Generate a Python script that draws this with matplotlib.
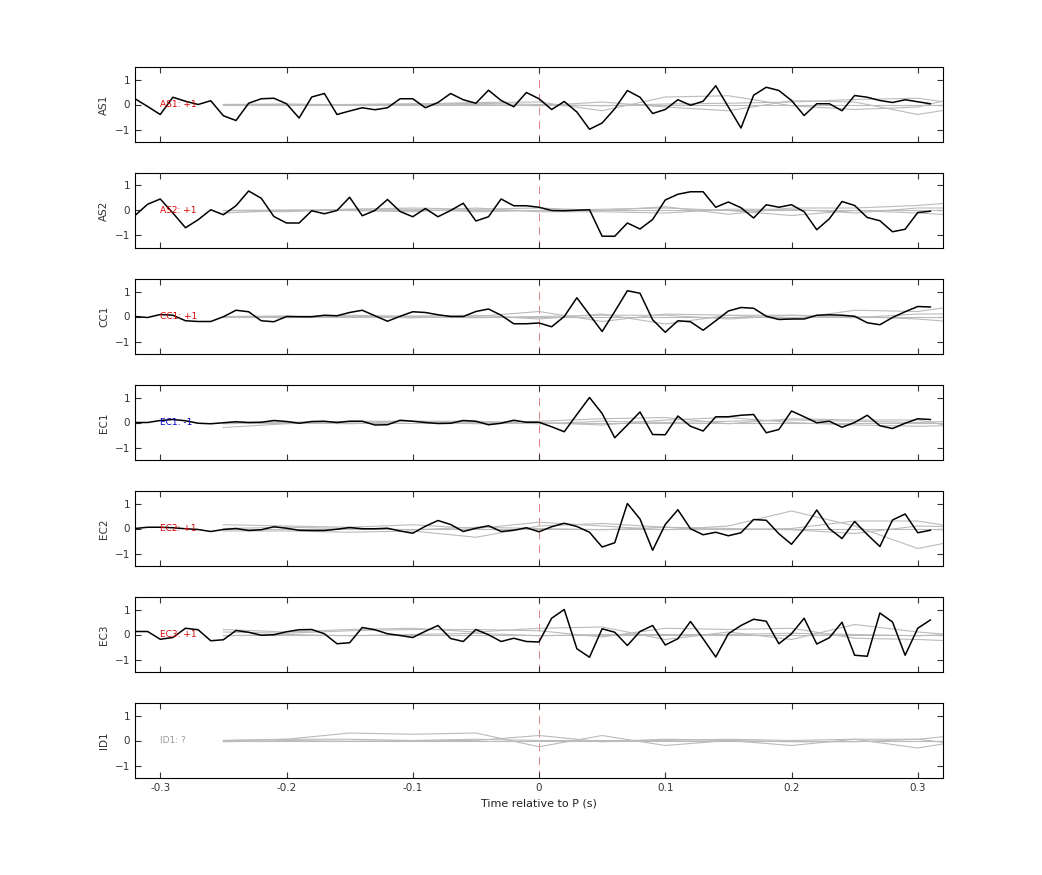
import numpy as np
import matplotlib
matplotlib.use('Agg')
from matplotlib import pyplot as plt

#   station names and polarity labels
stations = ['AS1', 'AS2', 'CC1', 'EC1', 'EC2', 'EC3', 'ID1']
labels = ['AS1: +1', 'AS2: +1', 'CC1: +1', 'EC1: -1', 'EC2: +1', 'EC3: +1', 'ID1: ?']
label_colors = ['#dd0000', '#dd0000', '#dd0000', '#0000cc', '#dd0000', '#dd0000', '#999999']

#   black traces, sampled every 0.01 s from -0.32 to 0.31
t_trace = np.arange(64) * 0.01 - 0.32
traces = {
    'AS1': [0.23, -0.08, -0.40, 0.29, 0.13, 0.0, 0.15, -0.45, -0.64, 0.05, 0.23, 0.25, 0.03, -0.54, 0.30, 0.44,
            -0.40, -0.26, -0.13, -0.21, -0.13, 0.23, 0.23, -0.13, 0.08, 0.44, 0.19, 0.05, 0.57, 0.16, -0.09, 0.48,
            0.23, -0.2, 0.12, -0.3, -0.99, -0.74, -0.17, 0.56, 0.29, -0.36, -0.2, 0.19, -0.03, 0.13, 0.75, -0.1,
            -0.94, 0.37, 0.69, 0.56, 0.16, -0.44, 0.03, 0.03, -0.25, 0.36, 0.29, 0.16, 0.08, 0.19, 0.11, 0.03],
    'AS2': [-0.2, 0.25, 0.46, -0.1, -0.69, -0.37, 0.03, -0.17, 0.19, 0.78, 0.49, -0.24, -0.5, -0.5, -0.01, -0.13,
            0.0, 0.53, -0.21, 0.0, 0.44, -0.04, -0.25, 0.08, -0.25, 0.0, 0.29, -0.42, -0.25, 0.46, 0.19, 0.19,
            0.13, 0.0, -0.01, 0.01, 0.03, -1.03, -1.03, -0.5, -0.74, -0.36, 0.42, 0.65, 0.75, 0.75, 0.13, 0.34,
            0.11, -0.3, 0.23, 0.13, 0.23, -0.05, -0.77, -0.33, 0.36, 0.2, -0.28, -0.41, -0.85, -0.75, -0.08, -0.03],
    'CC1': [0.0, -0.04, 0.08, 0.05, -0.17, -0.2, -0.2, -0.01, 0.25, 0.19, -0.17, -0.21, 0.0, -0.01, -0.01, 0.05,
            0.03, 0.16, 0.25, 0.03, -0.19, 0.01, 0.19, 0.16, 0.07, 0.0, 0.0, 0.2, 0.3, 0.05, -0.29, -0.29,
            -0.26, -0.41, 0.0, 0.75, 0.07, -0.6, 0.2, 1.03, 0.93, -0.13, -0.63, -0.17, -0.21, -0.55, -0.17, 0.22,
            0.36, 0.33, 0.01, -0.12, -0.1, -0.1, 0.05, 0.07, 0.05, 0.01, -0.25, -0.33, -0.04, 0.19, 0.4, 0.38],
    'EC1': [0.0, 0.0, 0.08, 0.12, 0.07, -0.03, -0.05, -0.01, 0.03, 0.0, 0.01, 0.08, 0.04, -0.03, 0.04, 0.05,
            0.0, 0.05, 0.05, -0.1, -0.09, 0.09, 0.05, 0.0, -0.04, -0.03, 0.08, 0.05, -0.09, -0.03, 0.09, 0.01,
            0.01, -0.17, -0.37, 0.32, 1.0, 0.36, -0.61, -0.1, 0.42, -0.48, -0.49, 0.26, -0.15, -0.34, 0.23, 0.23,
            0.29, 0.32, -0.41, -0.28, 0.46, 0.23, -0.01, 0.05, -0.19, 0.0, 0.29, -0.13, -0.24, -0.03, 0.15, 0.12],
    'EC2': [0.0, 0.05, 0.05, 0.03, -0.01, -0.04, -0.12, -0.04, 0.0, -0.08, -0.05, 0.07, 0.01, -0.07, -0.08, -0.08,
            -0.03, 0.04, -0.01, -0.01, 0.01, -0.1, -0.19, 0.09, 0.32, 0.16, -0.12, 0.01, 0.11, -0.12, -0.07, 0.03,
            -0.13, 0.07, 0.21, 0.08, -0.15, -0.74, -0.57, 1.0, 0.38, -0.87, 0.16, 0.75, -0.01, -0.25, -0.15, -0.29,
            -0.17, 0.36, 0.33, -0.21, -0.63, -0.01, 0.74, -0.01, -0.4, 0.28, -0.24, -0.72, 0.34, 0.58, -0.17, -0.07],
    'EC3': [0.12, 0.12, -0.19, -0.12, 0.25, 0.19, -0.25, -0.21, 0.16, 0.09, -0.03, -0.01, 0.11, 0.19, 0.2, 0.03,
            -0.37, -0.33, 0.28, 0.19, 0.03, -0.04, -0.12, 0.13, 0.36, -0.16, -0.28, 0.2, -0.01, -0.28, -0.15, -0.28,
            -0.3, 0.65, 1.0, -0.57, -0.91, 0.23, 0.09, -0.44, 0.12, 0.36, -0.42, -0.17, 0.52, -0.17, -0.9, 0.03,
            0.36, 0.61, 0.53, -0.37, 0.03, 0.65, -0.38, -0.13, 0.49, -0.83, -0.87, 0.86, 0.5, -0.83, 0.25, 0.58],
}

#   grey synthetic traces, every 0.05 s from -0.25 to 0.35
t_synth = np.arange(13) * 0.05 - 0.25
synth = {
    'AS1': [[0, 0, 0, 0.02, 0.08, 0.1, -0.25, 0.3, 0.35, -0.05, -0.2, -0.1, 0.5],
            [0, -0.03, 0, 0.02, 0, -0.05, 0.1, -0.1, -0.25, 0.15, 0.1, -0.4, 0.0],
            [0, 0.02, -0.02, 0, 0.05, 0, -0.05, 0.02, 0.05, 0.1, 0.2, 0.25, -0.1],
            [0, 0, 0, 0, 0, 0, 0, 0, 0, 0, 0, 0, 0]],
    'AS2': [[-0.1, 0, 0.05, 0.1, 0.05, 0.1, 0, 0.15, -0.15, 0.1, 0.1, 0.2, 0.4],
            [0, -0.05, 0.05, 0.05, -0.05, 0, 0.05, 0.1, 0, -0.2, 0, -0.1, -0.25],
            [0, 0.02, 0, -0.05, 0.1, -0.05, -0.05, -0.1, 0.05, 0.05, -0.1, 0.1, 0.1],
            [0, 0, 0, 0, 0, 0, 0, 0, 0, 0, 0, 0, 0]],
    'CC1': [[0, 0, 0, -0.05, 0, 0.2, -0.2, 0.1, 0.05, -0.1, 0.25, 0.2, 0.55],
            [0, 0.02, 0, 0.02, 0.05, -0.1, 0.1, -0.3, 0.05, 0.05, 0, -0.1, -0.3],
            [0, -0.05, 0.05, 0, -0.05, 0, 0.05, 0.05, -0.1, 0.05, -0.05, 0.1, 0.1],
            [0, 0, 0, 0, 0, 0, 0, 0, 0, 0, 0, 0, 0]],
    'EC1': [[-0.2, -0.05, 0.05, 0.05, 0, 0.05, 0.15, 0.2, -0.05, 0.15, 0.1, 0.1, -0.35],
            [0, 0.02, 0.02, 0.05, -0.05, 0, -0.1, 0.1, 0.2, 0, -0.1, -0.15, -0.1],
            [-0.05, 0, -0.05, 0.05, 0.05, -0.05, 0.05, 0, 0.05, 0.1, 0.05, 0, 0.1],
            [0, 0, 0, 0, 0, 0, 0, 0, 0, 0, 0, 0, 0]],
    'EC2': [[0.15, 0.1, 0.05, 0.15, 0.0, 0.25, 0.1, -0.05, 0.1, 0.7, 0.1, -0.8, -0.3],
            [-0.1, -0.1, -0.15, -0.1, -0.35, 0.1, 0.2, 0.05, -0.05, 0.0, 0.3, 0.3, -0.1],
            [0, 0.05, 0, -0.05, 0.05, 0, -0.05, 0.05, 0, -0.05, -0.2, 0.1, 0.05],
            [0, 0, 0, 0, 0, 0, 0, 0, 0, 0, 0, 0, 0]],
    'EC3': [[0.2, 0.1, 0.2, 0.25, 0.1, 0.25, 0.3, -0.2, 0.1, -0.2, 0.4, 0.1, -0.1],
            [0.1, 0.05, 0.15, 0.2, 0.2, 0.15, -0.1, 0.25, 0.2, 0.25, -0.15, -0.2, -0.3],
            [-0.05, 0, -0.05, 0, 0.05, -0.05, 0, 0, 0, 0.05, 0, -0.05, 0.05],
            [0, 0, 0, 0, 0, 0, 0, 0, 0, 0, 0, 0, 0]],
    'ID1': [[0, 0.05, 0.3, 0.25, 0.3, -0.25, 0.2, -0.2, 0, -0.05, -0.05, 0.05, 0.3],
            [0, 0.05, 0.05, 0, 0, 0.2, -0.05, 0.05, 0, -0.2, 0.05, 0.05, -0.25],
            [-0.05, 0, -0.03, 0, 0.05, 0, 0, 0, 0.05, 0, 0.05, -0.3, 0.1],
            [0, 0, 0, 0, 0, 0, 0, 0, 0, 0, 0, 0, 0]],
}

fig = plt.figure(figsize=(10.42, 8.75), dpi=100)

left, width = 135 / 1042, (943 - 135) / 1042
for i, st in enumerate(stations):
    top = 67 + 106 * i
    ax = fig.add_axes([left, 1 - (top + 75) / 875, width, 75 / 875])
    for s in synth[st]:
        ax.plot(t_synth, s, color='#bbbbbb', lw=0.8, zorder=2)
    if st in traces:
        ax.plot(t_trace, traces[st], color='black', lw=1.1, zorder=3)
    ax.axvline(0, color='#e08080', lw=0.7, ls=(0, (8, 6)), zorder=1)
    ax.text(-0.300, 0, labels[i], color=label_colors[i], fontsize=6.5, va='center', zorder=4)
    ax.set_xlim(-0.32, 0.32)
    ax.set_ylim(-1.5, 1.5)
    ax.set_yticks([-1, 0, 1])
    ax.set_xticks([-0.3, -0.2, -0.1, 0, 0.1, 0.2, 0.3])
    ax.tick_params(direction='in', top=True, right=True, labelsize=7.5, length=4, colors='#333333')
    ax.set_ylabel(st, fontsize=7.5, color='#333333')
    if i < len(stations) - 1:
        ax.set_xticklabels([])
    else:
        ax.set_xticklabels(['-0.3', '-0.2', '-0.1', '0', '0.1', '0.2', '0.3'])
        ax.set_xlabel('Time relative to P (s)', fontsize=8, color='#222222')

fig.savefig('out.png')
